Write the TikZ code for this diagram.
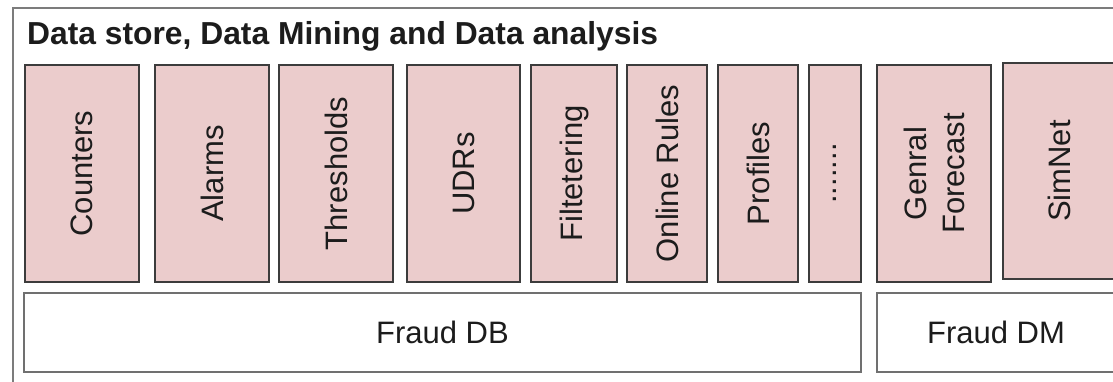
\documentclass[tikz,border=0pt]{standalone}
\usepackage{fontspec}
\setmainfont{Liberation Sans}
\definecolor{modfill}{HTML}{EBCCCC}
\definecolor{modline}{HTML}{3C3C3C}
\definecolor{dbline}{HTML}{707070}
\definecolor{frameline}{HTML}{7C7C7C}
\definecolor{inktext}{HTML}{1C1C1C}
\begin{document}
\begin{tikzpicture}[x=1pt,y=-1pt,
  module/.style={draw=modline, line width=1.5pt, fill=modfill, rotate=90,
    inner sep=0pt, text=inktext, align=center,
    font=\fontsize{31}{38}\selectfont},
  store/.style={draw=dbline, line width=2pt, fill=white, inner sep=0pt,
    text=inktext, font=\fontsize{31}{38}\selectfont}]
\useasboundingbox (0,0) rectangle (1113,381);
\clip (0,0) rectangle (1113,381);
\fill[white] (0,0) rectangle (1113,381);
% outer frame of the data layer
\draw[frameline, line width=2pt] (13,8) rectangle (1130,400);
\node[anchor=base west, inner sep=0pt, text=inktext,
  font=\bfseries\fontsize{31.8}{38}\selectfont] (title) at (27,44)
  {Data store, Data Mining and Data analysis};
% modules (rotated nodes: minimum width is the vertical extent)
\node[module, minimum width=217pt, minimum height=114pt] (counters) at (82,173.5) {Counters};
\node[module, minimum width=217pt, minimum height=114pt] (alarms) at (212,173.5) {Alarms};
\node[module, minimum width=217pt, minimum height=114pt] (thresholds) at (336,173.5) {Thresholds};
\node[module, minimum width=217pt, minimum height=113pt] (udrs) at (463.5,173.5) {UDRs};
\node[module, minimum width=217pt, minimum height=86pt] (filter) at (574,173.5) {Filtetering};
\node[module, minimum width=217pt, minimum height=80pt] (online) at (667,173.5) {Online Rules};
\node[module, minimum width=217pt, minimum height=80pt] (profiles) at (758,173.5) {Profiles};
\node[module, minimum width=217pt, minimum height=52pt] (more) at (835,173.5) {.......};
\node[module, minimum width=217pt, minimum height=114pt] (forecast) at (934,173.5) {Genral\\Forecast};
\node[module, minimum width=216pt, minimum height=112pt] (simnet) at (1059,171) {SimNet};
% storage layer
\node[store, minimum width=837pt, minimum height=79pt] (frauddb) at (442.5,332.5) {Fraud DB};
\node[store, minimum width=238pt, minimum height=79pt] (frauddm) at (996,332.5) {Fraud DM};
\end{tikzpicture}
\end{document}
